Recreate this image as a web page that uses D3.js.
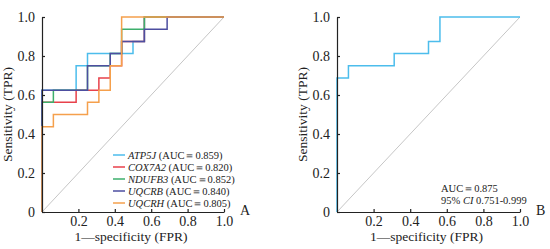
<!DOCTYPE html>
<html>
<head>
<meta charset="utf-8">
<script src="https://cdn.jsdelivr.net/npm/d3@7"></script>
<style>
  body { margin: 0; background: #fff; }
  text { font-family: "Liberation Serif", "Times New Roman", serif; fill: #222; }
</style>
</head>
<body>
<div id="wrapper"></div>
<script>
// ROC points (FPR, TPR)
var genes = ["ATP5J", "COX7A2", "NDUFB3", "UQCRB", "UQCRH"];
var aucs = ["0.859", "0.820", "0.852", "0.840", "0.805"];
var colors = ["#4cbdec", "#e8414b", "#3daf6c", "#4d4ea0", "#f5a04c"];

var fprATP5J = [0, 0, 0.1875, 0.25, 0.5, 0.5625, 1];
var tprATP5J = [0, 0.625, 0.75, 0.8125, 0.875, 1, 1];
var fprCOX7A2 = [0, 0, 0.1875, 0.3125, 0.375, 0.4375, 0.5625, 1];
var tprCOX7A2 = [0, 0.5625, 0.625, 0.6875, 0.75, 0.875, 1, 1];
var fprNDUFB3 = [0, 0, 0.0625, 0.25, 0.375, 0.4375, 0.5625, 1];
var tprNDUFB3 = [0, 0.5625, 0.625, 0.75, 0.8125, 0.9375, 1, 1];
var fprUQCRB = [0, 0, 0.25, 0.375, 0.4375, 0.5625, 0.6875, 1];
var tprUQCRB = [0, 0.625, 0.75, 0.8125, 0.875, 0.9375, 1, 1];
var fprUQCRH = [0, 0, 0.0625, 0.25, 0.3125, 0.375, 0.4375, 1];
var tprUQCRH = [0, 0.4375, 0.5, 0.5625, 0.625, 0.75, 1, 1];

var fprCombined = [0, 0, 0.0625, 0.3125, 0.5, 0.5625, 1];
var tprCombined = [0, 0.6875, 0.75, 0.8125, 0.875, 1, 1];

var xTicks = [0.2, 0.4, 0.6, 0.8, 1.0];
var yTicks = [0, 0.2, 0.4, 0.6, 0.8, 1.0];

var zip = (fx, ty) => fx.map((f, i) => ({x: f, y: ty[i]}));

var curvesA = [
    zip(fprATP5J, tprATP5J),
    zip(fprCOX7A2, tprCOX7A2),
    zip(fprNDUFB3, tprNDUFB3),
    zip(fprUQCRB, tprUQCRB),
    zip(fprUQCRH, tprUQCRH)
];
var curvesB = [zip(fprCombined, tprCombined)];

var svg = d3.select("#wrapper")
    .append("svg")
    .attr("width", 550)
    .attr("height", 249);

function drawPanel(left, right, curves, cols, letter){
    var top = 17, bottom = 212;
    var x = d3.scaleLinear().domain([0, 1]).range([left, right]);
    var y = d3.scaleLinear().domain([0, 1]).range([bottom, top]);
    var g = svg.append("g");

    // chance line
    g.append("line")
        .attr("x1", x(0)).attr("y1", y(0))
        .attr("x2", x(1)).attr("y2", y(1))
        .attr("stroke", "#c6c6c6").attr("stroke-width", 1);

    var line = d3.line()
        .x(d => x(d.x))
        .y(d => y(d.y))
        .curve(d3.curveStepAfter);

    curves.forEach((c, i) => {
        g.append("path")
            .attr("d", line(c))
            .attr("fill", "none")
            .attr("stroke", cols[i])
            .attr("stroke-width", 1.5);
    });

    var yAxis = d3.axisLeft(y).tickValues(yTicks)
        .tickFormat(d => d === 0 ? "0" : d3.format(".1f")(d))
        .tickSizeInner(-3).tickSizeOuter(0).tickPadding(7);
    var xAxis = d3.axisBottom(x).tickValues(xTicks)
        .tickFormat(d3.format(".1f"))
        .tickSizeInner(-3).tickSizeOuter(0).tickPadding(4);

    var ya = g.append("g").attr("transform", `translate(${left},0)`).call(yAxis);
    var xa = g.append("g").attr("transform", `translate(0,${bottom})`).call(xAxis);
    [ya, xa].forEach(a => {
        a.select(".domain").attr("stroke", "#222").attr("stroke-width", 1.2);
        a.selectAll(".tick line").attr("stroke", "#222").attr("stroke-width", 1.2);
        a.selectAll("text").attr("font-size", 14).attr("fill", "#222");
    });

    g.append("text")
        .attr("transform", `translate(${left - 30},${(top + bottom) / 2}) rotate(-90)`)
        .attr("text-anchor", "middle")
        .attr("font-size", 13.5)
        .text("Sensitivity (TPR)");

    g.append("text")
        .attr("x", (left + right) / 2 - 2)
        .attr("y", 241)
        .attr("text-anchor", "middle")
        .attr("font-size", 13.5)
        .text("1—specificity (FPR)");

    g.append("text")
        .attr("x", right + 16)
        .attr("y", 215)
        .attr("font-size", 14)
        .text(letter);

    return {x: x, y: y, g: g};
}

var pA = drawPanel(42, 224, curvesA, colors, "A");
var pB = drawPanel(337, 520, curvesB, [colors[0]], "B");

// legend for panel A
var legend = pA.g.append("g");
genes.forEach((name, i) => {
    var cy = 155 + i * 12;
    legend.append("line")
        .attr("x1", 113).attr("x2", 125)
        .attr("y1", cy).attr("y2", cy)
        .attr("stroke", colors[i]).attr("stroke-width", 1.5);
    var t = legend.append("text")
        .attr("x", 128).attr("y", cy + 3.5)
        .attr("font-size", 10.5);
    t.append("tspan").attr("font-style", "italic").text(name);
    t.append("tspan").text(" (AUC＝" + aucs[i] + ")");
});

// annotation for panel B
pB.g.append("text")
    .attr("x", 441).attr("y", 192)
    .attr("font-size", 10.5)
    .text("AUC＝0.875");
var ci = pB.g.append("text")
    .attr("x", 441).attr("y", 204)
    .attr("font-size", 10.5);
ci.append("tspan").text("95% ");
ci.append("tspan").attr("font-style", "italic").text("CI");
ci.append("tspan").text(" 0.751-0.999");
</script>
</body>
</html>
